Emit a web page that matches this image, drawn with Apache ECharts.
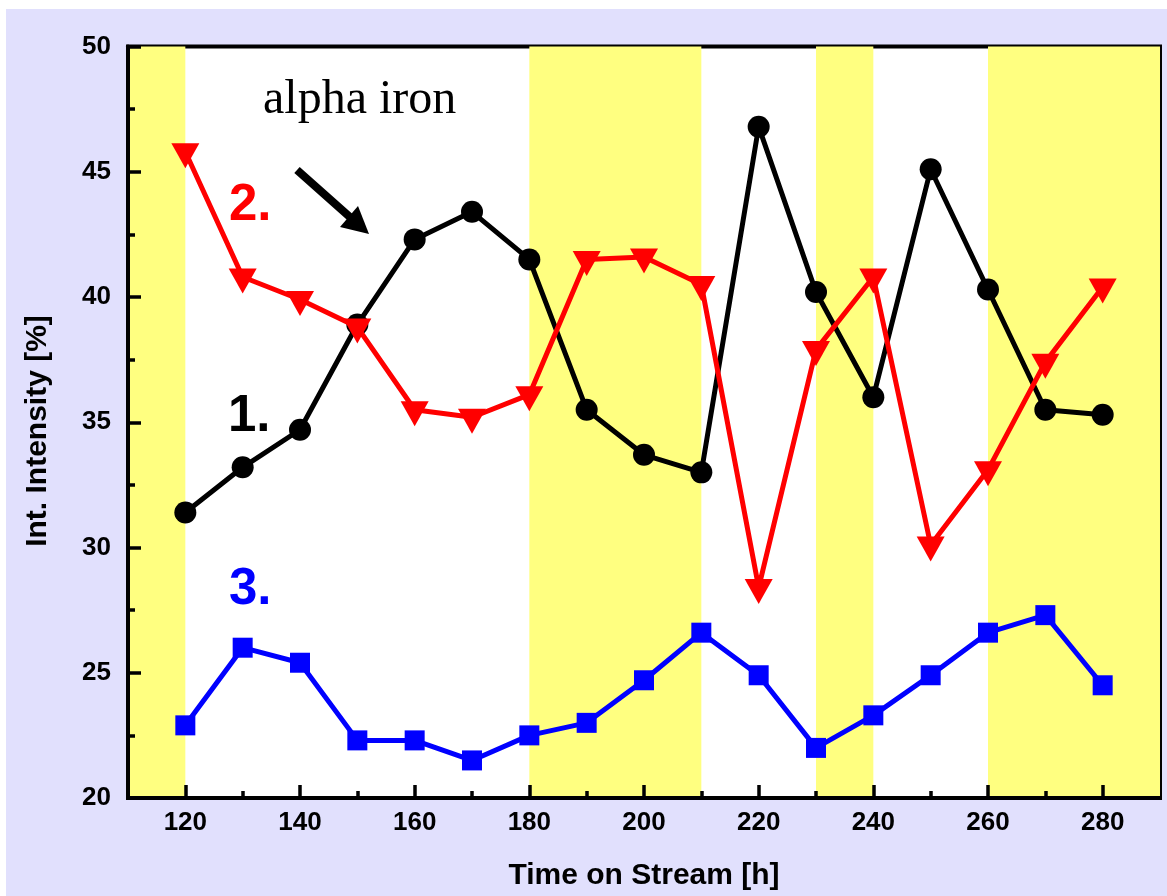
<!DOCTYPE html>
<html>
<head>
<meta charset="utf-8">
<script src="https://cdn.jsdelivr.net/npm/echarts@6/dist/echarts.min.js"></script>
<style>
  html, body { margin: 0; padding: 0; background: #ffffff; }
  #chart { position: absolute; left: 6px; top: 9px; width: 1161px; height: 887px; }
</style>
</head>
<body>
<div id="chart"></div>
<script>
// Time on stream [h]
const hours = [120, 130, 140, 150, 160, 170, 180, 190, 200, 210, 220, 230, 240, 250, 260, 270, 280];

// Integrated intensities [%]
const phase1 = [31.4, 33.2, 34.7, 38.9, 42.3, 43.4, 41.5, 35.5, 33.7, 33.0, 46.8, 40.2, 36.0, 45.1, 40.3, 35.5, 35.3];
const phase2 = [45.8, 40.8, 39.9, 38.8, 35.5, 35.2, 36.1, 41.5, 41.6, 40.5, 28.4, 37.9, 40.8, 30.1, 33.1, 37.4, 40.4];
const phase3 = [22.9, 26.0, 25.4, 22.3, 22.3, 21.5, 22.5, 23.0, 24.7, 26.6, 24.9, 22.0, 23.3, 24.9, 26.6, 27.3, 24.5];

// Highlighted time windows [start, end] in h
const bands = [[110, 120], [180, 210], [230, 240], [260, 290]];

// Axis ticks
const xMajorTicks = [120, 140, 160, 180, 200, 220, 240, 260, 280];
const xMinorTicks = [130, 150, 170, 190, 210, 230, 250, 270];

const FONT = '"Liberation Sans", Arial, Helvetica, sans-serif';
const SERIF = '"Liberation Serif", "Times New Roman", Times, serif';

const pair = (xs, ys) => xs.map((x, i) => [x, ys[i]]);

const chart = echarts.init(document.getElementById('chart'));

chart.setOption({
  backgroundColor: '#e1e0fd',
  animation: false,
  grid: {
    left: 122, top: 37.5, right: 7, bottom: 98,
    show: true, backgroundColor: '#ffffff', borderColor: '#000000', borderWidth: 4
  },
  xAxis: [
    {
      type: 'value', min: 110, max: 290, position: 'bottom',
      name: 'Time on Stream [h]', nameLocation: 'middle', nameGap: 63,
      nameTextStyle: { fontFamily: FONT, fontWeight: 'bold', fontSize: 30, color: '#000' },
      axisLine: { show: true, lineStyle: { color: '#000', width: 4 } },
      axisTick: { show: true, inside: true, length: 13, customValues: xMajorTicks, lineStyle: { color: '#000', width: 3.5 } },
      axisLabel: { show: true, customValues: xMajorTicks, margin: 12, fontFamily: FONT, fontWeight: 'bold', fontSize: 26, color: '#000' },
      splitLine: { show: false }
    },
    {
      type: 'value', min: 110, max: 290, position: 'bottom',
      axisLine: { show: false },
      axisTick: { show: true, inside: true, length: 7, customValues: xMinorTicks, lineStyle: { color: '#000', width: 3.5 } },
      axisLabel: { show: false },
      splitLine: { show: false }
    }
  ],
  yAxis: {
    type: 'value', min: 20, max: 50, interval: 5,
    axisLine: { show: true, lineStyle: { color: '#000', width: 4 } },
    axisTick: { show: true, inside: true, length: 13, lineStyle: { color: '#000', width: 3.5 } },
    minorTick: { show: true, splitNumber: 2, length: 7, lineStyle: { color: '#000', width: 3.5 } },
    axisLabel: { margin: 17, fontFamily: FONT, fontWeight: 'bold', fontSize: 26, color: '#000' },
    splitLine: { show: false },
    minorSplitLine: { show: false }
  },
  series: [
    {
      // yellow time windows behind the curves
      type: 'custom',
      silent: true,
      z: 0,
      encode: { x: [0, 1] },
      data: bands,
      renderItem: function (params, api) {
        const a = api.coord([api.value(0), 50]);
        const b = api.coord([api.value(1), 20]);
        return {
          type: 'rect',
          shape: { x: a[0], y: a[1], width: b[0] - a[0], height: b[1] - a[1] },
          style: { fill: '#ffff80' }
        };
      }
    },
    {
      name: '1.', type: 'line', z: 3, data: pair(hours, phase1),
      lineStyle: { color: '#000000', width: 5 },
      itemStyle: { color: '#000000' },
      symbol: 'circle', symbolSize: 22, showAllSymbol: true
    },
    {
      name: '2.', type: 'line', z: 4, data: pair(hours, phase2),
      lineStyle: { color: '#ff0000', width: 5 },
      itemStyle: { color: '#ff0000' },
      symbol: 'triangle', symbolSize: [28, 25], symbolRotate: 180, symbolOffset: [0, 4], showAllSymbol: true
    },
    {
      name: '3.', type: 'line', z: 5, data: pair(hours, phase3),
      lineStyle: { color: '#0000ff', width: 5 },
      itemStyle: { color: '#0000ff' },
      symbol: 'rect', symbolSize: 20, showAllSymbol: true
    }
  ],
  graphic: [
    {
      // y axis title
      type: 'text', x: 32, y: 422, rotation: Math.PI / 2, z: 10,
      style: { text: 'Int. Intensity [%]', font: 'bold 30px ' + FONT, fill: '#000', align: 'center', verticalAlign: 'middle' }
    },
    {
      type: 'text', x: 257, y: 91, z: 10,
      style: { text: 'alpha iron', font: '48px ' + SERIF, fill: '#000', verticalAlign: 'middle' }
    },
    {
      type: 'line', z: 10,
      shape: { x1: 291, y1: 161, x2: 345, y2: 209 },
      style: { stroke: '#000', lineWidth: 8 }
    },
    {
      type: 'polygon', z: 10,
      shape: { points: [[363, 225], [352, 197], [334, 218]] },
      style: { fill: '#000' }
    },
    {
      type: 'text', x: 222, y: 407.5, z: 10,
      style: { text: '1.', font: 'bold 51px ' + FONT, fill: '#000', verticalAlign: 'middle' }
    },
    {
      type: 'text', x: 223, y: 196.5, z: 10,
      style: { text: '2.', font: 'bold 51px ' + FONT, fill: '#ff0000', verticalAlign: 'middle' }
    },
    {
      type: 'text', x: 223, y: 580.5, z: 10,
      style: { text: '3.', font: 'bold 51px ' + FONT, fill: '#0000ff', verticalAlign: 'middle' }
    }
  ]
});
</script>
</body>
</html>
